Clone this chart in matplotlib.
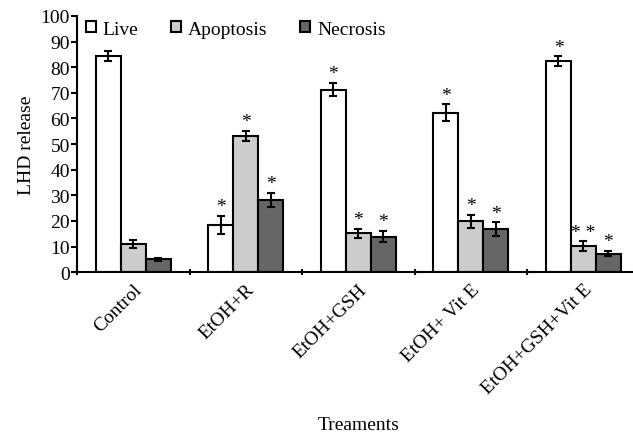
import numpy as np
import matplotlib
matplotlib.use("Agg")
import matplotlib.pyplot as plt
from matplotlib.patches import Patch

# values
treatments = ["Control", "EtOH+R", "EtOH+GSH", "EtOH+ Vit E", "EtOH+GSH+Vit E"]
series = ["Live", "Apoptosis", "Necrosis"]
live = [84.5, 18.5, 71.2, 62.2, 82.3]
apoptosis = [11.0, 53.1, 15.1, 19.8, 10.2]
necrosis = [5.0, 28.1, 13.8, 16.8, 7.2]
live_err = [2.0, 3.5, 2.6, 3.3, 1.9]
apoptosis_err = [1.5, 2.0, 1.9, 2.5, 1.8]
necrosis_err = [0.7, 2.7, 2.2, 2.6, 1.0]
live_stars = ["", "*", "*", "*", "*"]
apoptosis_stars = ["", "*", "*", "*", "**"]
necrosis_stars = ["", "*", "*", "*", "*"]

colors = ["white", "#cccccc", "#666666"]

plt.rcParams['font.family'] = ['Liberation Serif', 'DejaVu Serif']
fs = 14

fig = plt.figure(figsize=(6.33, 4.35), dpi=100)
ax = fig.add_axes([0.1216, 0.372, 0.889, 0.589])

x = np.arange(len(treatments))
w = 0.222
data = [live, apoptosis, necrosis]
errs = [live_err, apoptosis_err, necrosis_err]
stars = [live_stars, apoptosis_stars, necrosis_stars]

for i in range(3):
    pos = x + (i - 1) * w
    ax.bar(pos, data[i], w, color=colors[i], edgecolor="black", linewidth=1.5,
           yerr=errs[i], error_kw=dict(ecolor="black", elinewidth=1.5, capsize=3, capthick=1.5))
    for p, v, e, s in zip(pos, data[i], errs[i], stars[i]):
        if s:
            ax.text(p, v + e + 0.3, " ".join(s), ha="center", va="bottom", fontsize=fs)

ax.set_xlim(-0.5, 4.5)
ax.set_ylim(0, 100)
ax.set_yticks(range(0, 101, 10))
ax.tick_params(axis="y", labelsize=fs, width=1.5, length=4, direction="out", pad=1)

ax.set_xticks(x)
ax.set_xticklabels(treatments, rotation=45, ha="right", rotation_mode="anchor", fontsize=fs)
ax.tick_params(axis="x", which="major", length=0, pad=6)
ax.set_xticks(np.arange(-0.5, 5, 1), minor=True)
ax.tick_params(axis="x", which="minor", length=5, width=1.5, direction="inout")

for side in ["top", "right"]:
    ax.spines[side].set_visible(False)
for side in ["left", "bottom"]:
    ax.spines[side].set_linewidth(1.5)

ax.set_ylabel("LHD release", fontsize=fs, labelpad=4)
ax.set_xlabel("Treaments", fontsize=fs)
ax.xaxis.set_label_coords(0.5, -0.56)

handles = [Patch(facecolor=c, edgecolor="black", linewidth=1.5) for c in colors]
ax.legend(handles, series, loc="upper left", bbox_to_anchor=(-0.015, 1.05), ncol=3, frameon=False,
          fontsize=fs, handlelength=0.5, handleheight=0.5, handletextpad=0.35, columnspacing=1.7)

fig.savefig("out.png", dpi=100)
